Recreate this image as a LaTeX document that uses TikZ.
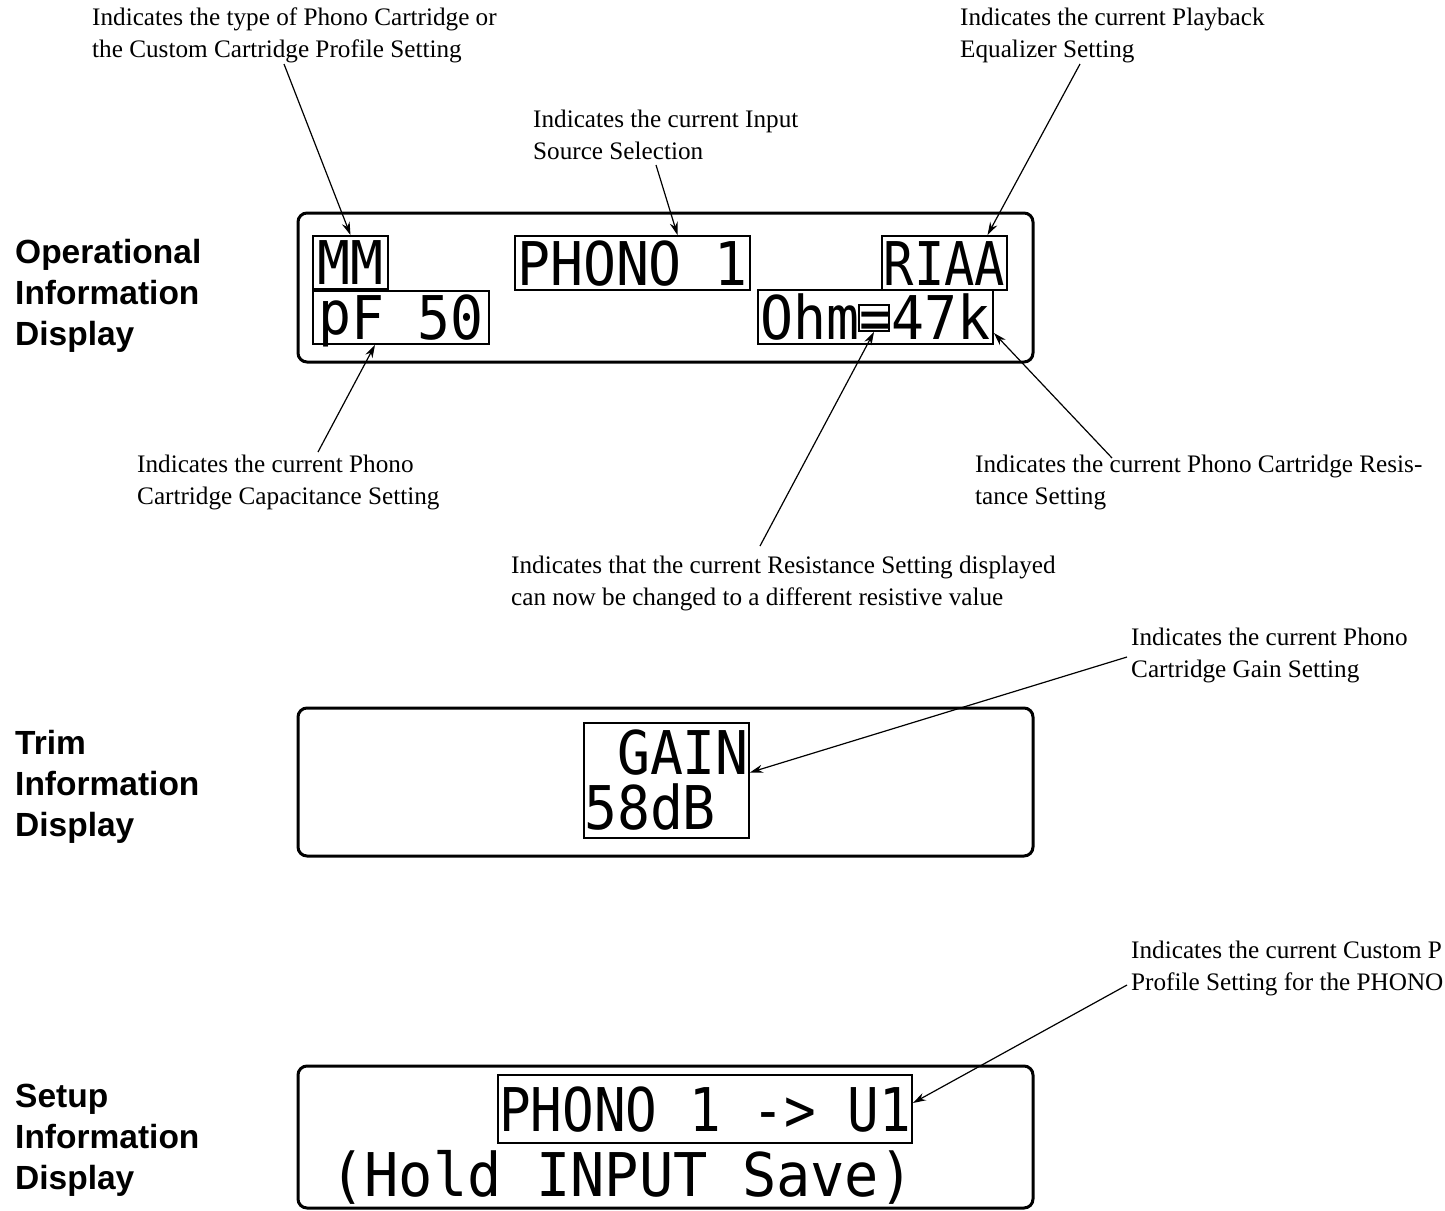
\documentclass[tikz,border=0pt]{standalone}
\usepackage{fontspec}
\usepackage{graphicx}
\usepackage{tikz}
\usetikzlibrary{arrows.meta,positioning,calc}
\setmainfont{Liberation Serif}
\newfontfamily\labelfont{Liberation Sans}
\newfontfamily\lcdfont{DejaVu Sans Mono}
\newcommand{\lcd}[2][1]{\scalebox{#1}[1.1]{\lcdfont #2}}

\begin{document}
\begin{tikzpicture}[
  x=1pt, y=-1pt,
  >={Stealth[length=13pt,width=8pt]},
  caption/.style={anchor=north west, inner sep=0pt, align=left, font=\fontsize{25.2}{32}\selectfont},
  sidelabel/.style={anchor=west, inner sep=0pt, align=left, font=\labelfont\bfseries\fontsize{33.5}{41}\selectfont},
  panel/.style={draw, line width=3pt, rounded corners=9pt, minimum width=735pt, inner sep=0pt},
  lcdbox/.style={draw, line width=1.8pt, inner sep=0pt, text height=44pt, text depth=0pt, font=\fontsize{54.8}{55}\selectfont},
  pointer/.style={->, line width=1.2pt},
]
\useasboundingbox (0,0) rectangle (1445,1210);

\node[panel, minimum height=149pt] (oppanel) at (665.5,287.5) {};
\node[panel, minimum height=148pt] (trimpanel) at (665.5,782) {};
\node[panel, minimum height=142pt] (setuppanel) at (665.5,1137) {};

\node[sidelabel] (oplabel) at (15,296) {Operational\\Information\\Display};
\node[sidelabel] (trimlabel) at (15,787) {Trim\\Information\\Display};
\node[sidelabel] (setuplabel) at (15,1140) {Setup\\Information\\Display};

\node[lcdbox, minimum width=75pt, minimum height=53pt] (mm) at (350.5,262.5) {\lcd{MM}};
\node[lcdbox, minimum width=176pt, minimum height=53pt] (pf) at (401,317.5) {\lcd{\raisebox{.08em}{p}F 50}};
\node[lcdbox, minimum width=235pt, minimum height=54pt] (phono) at (632.5,263) {\lcd{PHONO 1}};
\node[lcdbox, minimum width=125pt, minimum height=54pt] (riaa) at (944.5,263) {\lcd[0.92]{RIAA}};
\node[lcdbox, minimum width=235pt, minimum height=54pt] (ohm) at (875.5,317) {\lcd{Ohm=47k}};
\node[draw, line width=1.8pt, minimum width=30pt, minimum height=26pt] (eq) at (874,318) {};

\node[draw, line width=1.8pt, inner sep=0pt, align=left, minimum width=165pt, minimum height=115pt, font=\fontsize{54.8}{55}\selectfont] (gain) at (666.5,780.5) {\lcd{\hphantom{5}GAIN}\\\lcd{58dB}};

\node[lcdbox, minimum width=414pt, minimum height=68pt] (u1) at (705,1109) {\lcd[0.96]{PHONO 1 -> U1}};
\node[inner sep=0pt, font=\fontsize{54.8}{55}\selectfont] (hold) at (622,1177) {\lcd[1.04]{(Hold INPUT Save)}};

\node[caption] (captype) at (92,8) {Indicates the type of Phono Cartridge or\\the Custom Cartridge Profile Setting};
\node[caption] (capeq) at (960,8) {Indicates the current Playback\\Equalizer Setting};
\node[caption] (capinput) at (533,110) {Indicates the current Input\\Source Selection};
\node[caption] (capcap) at (137,455) {Indicates the current Phono\\Cartridge Capacitance Setting};
\node[caption] (capres) at (975,455) {Indicates the current Phono Cartridge Resis-\\tance Setting};
\node[caption] (capchange) at (511,556) {Indicates that the current Resistance Setting displayed\\can now be changed to a different resistive value};
\node[caption] (capgain) at (1131,628) {Indicates the current Phono\\Cartridge Gain Setting};
\node[caption] (capcustom) at (1131,941) {Indicates the current Custom P\\Profile Setting for the PHONO};

\coordinate (ptype) at (284,64);
\coordinate (peq) at (1080,64);
\coordinate (pinput) at (656,165);
\coordinate (pcap) at (318,452);
\coordinate (pres) at (1112,458);
\coordinate (pchange) at (760,546);
\coordinate (pgain) at (1127,657);
\coordinate (pcustom) at (1127,985);

\draw[pointer] (ptype) -- (mm.north);
\draw[pointer] (peq) -- ([xshift=43pt]riaa.north);
\draw[pointer] (pinput) -- ([xshift=45pt]phono.north);
\draw[pointer] (pcap) -- ([xshift=-26pt]pf.south);
\draw[pointer] (pres) -- ([yshift=-16pt]ohm.east);
\draw[pointer] (pchange) -- (eq.south);
\draw[pointer] (pgain) -- ([yshift=8pt]gain.east);
\draw[pointer] (pcustom) -- ([yshift=6pt]u1.east);
\end{tikzpicture}
\end{document}
